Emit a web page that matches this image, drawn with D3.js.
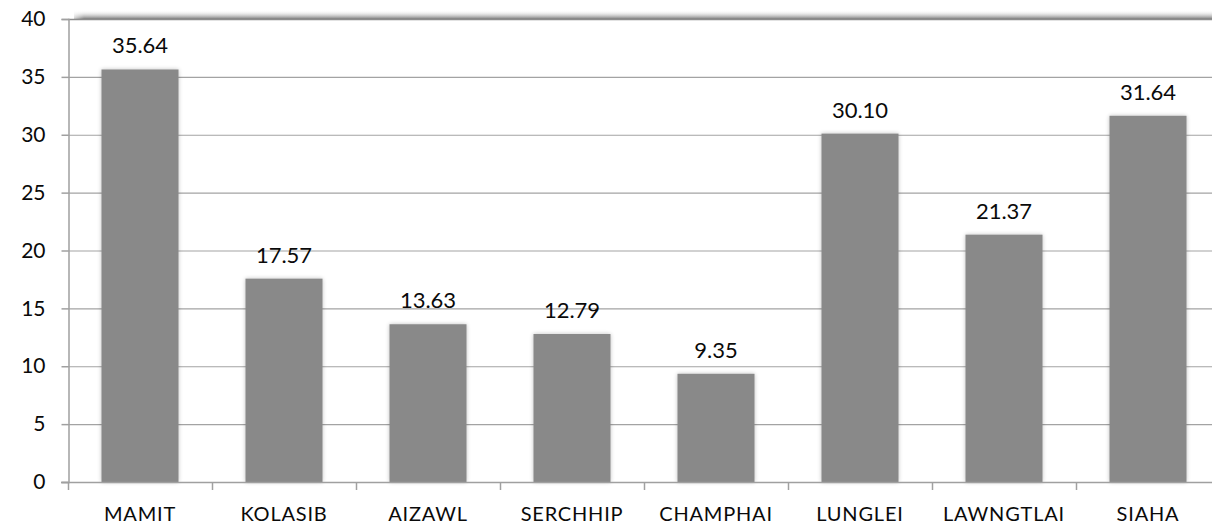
<!DOCTYPE html>
<html>
<head>
<meta charset="utf-8">
<script src="https://cdn.jsdelivr.net/npm/d3@7"></script>
<style>
  body { margin: 0; background: #fff; }
  svg { display: block; font-family: Lato, "Open Sans", sans-serif; }
</style>
</head>
<body>
<script>
// Districts along the x axis.
const districts = ["MAMIT", "KOLASIB", "AIZAWL", "SERCHHIP", "CHAMPHAI", "LUNGLEI", "LAWNGTLAI", "SIAHA"];

// Value of each district.
const values = [35.64, 17.57, 13.63, 12.79, 9.35, 30.10, 21.37, 31.64];

// Y axis ticks.
const yTicks = [0, 5, 10, 15, 20, 25, 30, 35, 40];

const width = 1212, height = 528;

// Plot area (right edge runs past the window).
const plotLeft = 68, plotRight = 1220, plotTop = 19, plotBottom = 482;

const svg = d3.select("body").append("svg")
    .attr("width", width)
    .attr("height", height);

const x = d3.scaleBand()
    .domain(districts)
    .range([plotLeft, plotRight])
    .paddingInner(0.465)
    .paddingOuter(0.2325);

const y = d3.scaleLinear()
    .domain([0, 40])
    .range([plotBottom, plotTop]);

// Soft shadow above the top border.
const defs = svg.append("defs");
const grad = defs.append("linearGradient")
    .attr("id", "topShadow")
    .attr("x1", 0).attr("y1", 0).attr("x2", 0).attr("y2", 1);
grad.append("stop").attr("offset", "0%").attr("stop-color", "#fff").attr("stop-opacity", 0);
grad.append("stop").attr("offset", "100%").attr("stop-color", "#7a7a7a").attr("stop-opacity", 1);

const hGrad = defs.append("linearGradient")
    .attr("id", "leftFade")
    .attr("x1", 0).attr("y1", 0).attr("x2", 1).attr("y2", 0);
hGrad.append("stop").attr("offset", "0%").attr("stop-color", "#fff").attr("stop-opacity", 1);
hGrad.append("stop").attr("offset", "100%").attr("stop-color", "#fff").attr("stop-opacity", 0);

svg.append("rect")
    .attr("x", plotLeft + 6)
    .attr("y", y(40) - 9)
    .attr("width", plotRight - plotLeft)
    .attr("height", 9)
    .attr("fill", "url(#topShadow)");

svg.append("rect")
    .attr("x", plotLeft)
    .attr("y", y(40) - 10)
    .attr("width", 16)
    .attr("height", 10)
    .attr("fill", "url(#leftFade)");

// Horizontal grid lines.
svg.append("g")
    .selectAll("line")
    .data(yTicks.filter(d => d > 0))
    .join("line")
    .attr("x1", plotLeft)
    .attr("x2", plotRight)
    .attr("y1", d => y(d) + 0.5)
    .attr("y2", d => y(d) + 0.5)
    .attr("stroke", d => d === 40 ? "#8c8c8c" : "#a3a3a3")
    .attr("stroke-width", d => d === 40 ? 1.5 : 1.2);

// Bar shadow filter.
const filter = defs.append("filter")
    .attr("id", "barShadow")
    .attr("x", "-20%").attr("y", "-5%").attr("width", "140%").attr("height", "110%");
filter.append("feGaussianBlur").attr("in", "SourceAlpha").attr("stdDeviation", 2).attr("result", "blur");
filter.append("feComponentTransfer").attr("in", "blur").attr("result", "soft")
    .append("feFuncA").attr("type", "linear").attr("slope", 0.25);
const merge = filter.append("feMerge");
merge.append("feMergeNode").attr("in", "soft");
merge.append("feMergeNode").attr("in", "SourceGraphic");

// Bars.
svg.append("g")
    .selectAll("rect")
    .data(districts)
    .join("rect")
    .attr("x", d => x(d))
    .attr("y", (d, i) => y(values[i]))
    .attr("width", x.bandwidth())
    .attr("height", (d, i) => y(0) - y(values[i]))
    .attr("fill", "#898989")
    .attr("filter", "url(#barShadow)");

// Value labels.
svg.append("g")
    .selectAll("text")
    .data(districts)
    .join("text")
    .attr("x", d => x(d) + x.bandwidth() / 2)
    .attr("y", (d, i) => y(values[i]) - 16)
    .attr("text-anchor", "middle")
    .attr("font-size", 22)
    .attr("fill", "#0a0a0a")
    .text((d, i) => values[i].toFixed(2));

// Y axis.
const yAxis = svg.append("g")
    .attr("transform", `translate(${plotLeft + 0.5},0)`)
    .call(d3.axisLeft(y).tickValues(yTicks).tickSize(7).tickPadding(16));
yAxis.select(".domain").attr("stroke", "#a0a0a0").attr("stroke-width", 1.5);
yAxis.selectAll(".tick line").attr("stroke", "#a0a0a0").attr("stroke-width", 1.5);
yAxis.selectAll(".tick text")
    .attr("font-family", "Lato, 'Open Sans', sans-serif")
    .attr("font-size", 21)
    .attr("fill", "#0a0a0a");

// X axis: tick marks on category boundaries.
const boundaries = districts.map(d => x(d) - x.step() * x.paddingInner() / 2);
boundaries.push(plotRight);
svg.append("line")
    .attr("x1", plotLeft - 7).attr("x2", plotRight)
    .attr("y1", plotBottom + 0.5).attr("y2", plotBottom + 0.5)
    .attr("stroke", "#a0a0a0").attr("stroke-width", 1.5);
svg.append("g")
    .selectAll("line")
    .data(boundaries)
    .join("line")
    .attr("x1", d => d + 0.5).attr("x2", d => d + 0.5)
    .attr("y1", plotBottom).attr("y2", plotBottom + 8)
    .attr("stroke", "#a0a0a0").attr("stroke-width", 1.5);

svg.append("g")
    .selectAll("text")
    .data(districts)
    .join("text")
    .attr("x", d => x(d) + x.bandwidth() / 2)
    .attr("y", 521)
    .attr("text-anchor", "middle")
    .attr("font-size", 20)
    .attr("letter-spacing", 0.8)
    .attr("fill", "#0a0a0a")
    .text(d => d);
</script>
</body>
</html>
